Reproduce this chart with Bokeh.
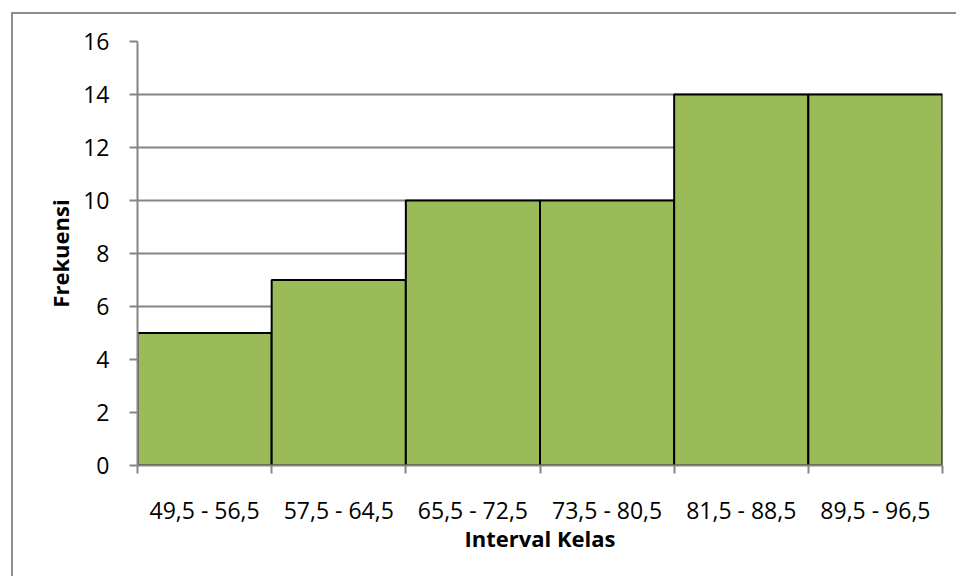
from bokeh.plotting import figure
from bokeh.models import FixedTicker, Range1d, ColumnDataSource
from bokeh.embed import file_html
from bokeh.resources import INLINE

# Frequency table
intervals = ["49,5 - 56,5", "57,5 - 64,5", "65,5 - 72,5",
             "73,5 - 80,5", "81,5 - 88,5", "89,5 - 96,5"]
frequencies = [5, 7, 10, 10, 14, 14]
y_ticks = [0, 2, 4, 6, 8, 10, 12, 14, 16]

FONT = "Open Sans"
GREY = "#868686"

centers = [i + 0.5 for i in range(len(intervals))]
src = ColumnDataSource(dict(x=centers, top=frequencies))

p = figure(width=945, height=564, output_backend="svg", toolbar_location=None,
           x_range=Range1d(0, len(intervals)), y_range=Range1d(0, 16),
           min_border_left=124, min_border_right=16, min_border_top=27,
           min_border_bottom=113,
           styles={"margin-left": "11px", "margin-top": "12px",
                   "border-left": "2px solid #8d8d8d",
                   "border-top": "2px solid #8d8d8d"})
p.outline_line_color = None

p.vbar(x="x", top="top", width=1, source=src, fill_color="#9BBB59",
       line_color="black", line_width=2)

# x axis: labels at bar centers, tick marks at the class boundaries
xa = p.xaxis[0]
xa.ticker = FixedTicker(ticks=centers, minor_ticks=list(range(len(intervals) + 1)))
xa.major_label_overrides = {c: lab for c, lab in zip(centers, intervals)}
xa.major_tick_out = 0
xa.major_tick_in = 0
xa.minor_tick_out = 8
xa.minor_tick_in = 0
xa.minor_tick_line_color = GREY
xa.minor_tick_line_width = 2
xa.axis_line_color = GREY
xa.axis_line_width = 2
xa.major_label_text_font = FONT
xa.major_label_text_font_size = "23px"
xa.major_label_text_color = "black"
xa.major_label_standoff = 20
xa.axis_label = "Interval Kelas"
xa.axis_label_text_font = FONT
xa.axis_label_text_font_size = "22px"
xa.axis_label_text_font_style = "bold"
xa.axis_label_text_color = "black"
xa.axis_label_standoff = -6

ya = p.yaxis[0]
ya.ticker = FixedTicker(ticks=y_ticks, minor_ticks=[])
ya.major_tick_out = 8
ya.major_tick_in = 0
ya.major_tick_line_color = GREY
ya.major_tick_line_width = 2
ya.axis_line_color = GREY
ya.axis_line_width = 2
ya.major_label_text_font = FONT
ya.major_label_text_font_size = "23px"
ya.major_label_text_color = "black"
ya.major_label_standoff = 20
ya.axis_label = "Frekuensi"
ya.axis_label_text_font = FONT
ya.axis_label_text_font_size = "22px"
ya.axis_label_text_font_style = "bold"
ya.axis_label_text_color = "black"
ya.axis_label_standoff = 5

p.xgrid.grid_line_color = None
p.ygrid.grid_line_color = GREY
p.ygrid.grid_line_width = 2
p.ygrid.level = "underlay"

open("out.html", "w").write(file_html(p, INLINE))
